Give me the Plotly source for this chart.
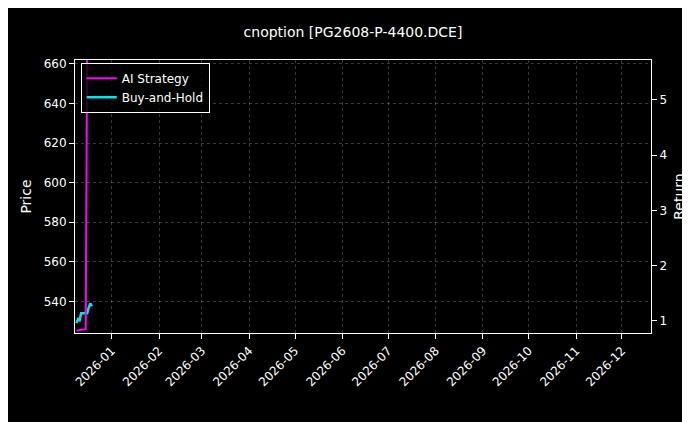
import plotly.graph_objects as go

dates = ["2025-12-09","2025-12-10","2025-12-11","2025-12-12","2025-12-15","2025-12-16","2025-12-17","2025-12-18","2025-12-19"]
price = [529.0, 531.0, 530.5, 534.0, 534.0, 534.0, 537.0, 539.0, 537.5]
ai_ret = [0.82, 0.83, 0.83, 0.84, 0.85, 6.2, 6.2, 6.2, 6.2]

fig = go.Figure()
fig.add_trace(go.Scatter(x=dates, y=ai_ret, name="AI Strategy", yaxis="y2", mode="lines",
                         line=dict(color="#ff00ff", width=2)))
fig.add_trace(go.Scatter(x=dates, y=price, name="Buy-and-Hold", mode="lines",
                         line=dict(color="#00e5ee", width=2.5)))
grid = dict(showgrid=True, gridcolor="rgba(255,255,255,0.22)", griddash="dot", gridwidth=1)
fig.update_layout(
    width=690, height=422, paper_bgcolor="black", plot_bgcolor="black",
    font=dict(family="DejaVu Sans", color="white", size=12),
    title=dict(text="cnoption [PG2608-P-4400.DCE]", x=0.5, y=0.955, font=dict(size=14)),
    margin=dict(l=67, r=47, t=52, b=97, autoexpand=False),
    xaxis=dict(range=["2025-12-08","2026-12-20"], tickformat="%Y-%m", dtick="M1",
               tick0="2026-01-01", tickangle=-45, showline=True, linecolor="white", mirror=True,
               ticks="outside", tickcolor="white", automargin=False, **grid),
    yaxis=dict(title=dict(text="Price", standoff=8), range=[524, 662], dtick=20, showline=True,
               linecolor="white", ticks="outside", tickcolor="white", zeroline=False,
               automargin=False, **grid),
    yaxis2=dict(title=dict(text="Return", standoff=8), overlaying="y", side="right",
                range=[0.78, 5.72], dtick=1, showline=True, linecolor="white", ticks="outside",
                tickcolor="white", showgrid=False, zeroline=False, automargin=False),
    legend=dict(x=0.01, y=0.99, xanchor="left", yanchor="top", bgcolor="rgba(0,0,0,0.8)",
                bordercolor="white", borderwidth=1),
)
fig.write_html("out.html")
